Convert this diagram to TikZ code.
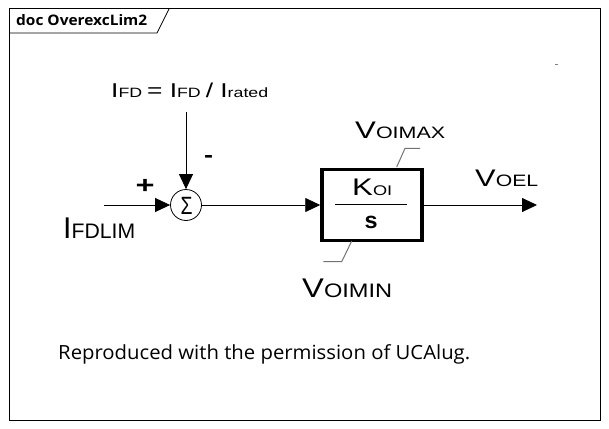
\documentclass[tikz,border=0pt]{standalone}
\usepackage{fontspec}
\usepackage{graphicx}
\setmainfont{Liberation Sans}
\newfontfamily\capfont{Open Sans}
\usetikzlibrary{arrows.meta}
\newcommand\fsz[1]{\fontsize{#1pt}{#1pt}\selectfont}
\newcommand\wfit[2]{\resizebox{#1pt}{\height}{#2}}
\begin{document}
\begin{tikzpicture}[x=1pt,y=-1pt,
  wire/.style={line width=0.8pt, draw=black},
  arr/.style={wire, -{Triangle[length=15pt,width=14pt]}},
  lim/.style={line width=1pt, draw=black!55},
  lbl/.style={inner sep=0pt, anchor=base west},
]
\useasboundingbox (0,0) rectangle (609,428);
% frame
\draw[line width=1pt] (9,9) rectangle (600,420);
\draw[line width=0.8pt] (9,33) -- (157,33) -- (169,9);
\node[lbl] (title) at (16,26) {\wfit{131}{\capfont\fsz{14.5}\bfseries doc OverexcLim2}};
% summing junction
\node[draw, circle, line width=0.8pt, minimum size=31pt, inner sep=0pt] (sum) at (186,205) {};
\node[inner sep=0pt] (sig) at (186.5,206) {\resizebox{12pt}{\height}{\fsz{25}Σ}};
% block
\node[draw, line width=3.5pt, minimum width=100pt, minimum height=71pt, inner sep=0pt] (blk) at (372,205) {};
\coordinate (fl) at (335,204);
\coordinate (fr) at (407,204);
\draw[wire] (fl) -- (fr);
\node[lbl] (k) at (352,195) {\wfit{40}{\fsz{24}K\fsz{14}OI}};
\node[lbl] (s) at (364.5,228) {\wfit{13}{\fsz{23}\bfseries s}};
% coordinates
\coordinate (in1) at (104,205);
\coordinate (top) at (186,112);
\coordinate (out) at (537,205);
% connectors
\draw[arr] (top) -- (sum.north);
\draw[arr] (in1) -- (sum.west);
\draw[arr] (sum.east) -- (blk.west);
\draw[arr] (blk.east) -- (out);
% limiters
\coordinate (lt1) at (396.7,167);
\coordinate (lt2) at (405,148.3);
\coordinate (lt3) at (420,148.3);
\draw[lim] (lt1) -- (lt2) -- (lt3);
\coordinate (lb1) at (351.7,241);
\coordinate (lb2) at (341.7,261.7);
\coordinate (lb3) at (323.3,261.7);
\draw[lim] (lb1) -- (lb2) -- (lb3);
% labels
\node[lbl] (ifd) at (111,97) {\wfit{157}{\fsz{20}I\fsz{13.5}FD \fsz{20}= I\fsz{13.5}FD \fsz{20}/ I\fsz{13.5}rated}};
\node[lbl] (ifdlim) at (63,238) {\wfit{72}{\fsz{30}I\fsz{21}FDLIM}};
\node[inner sep=0pt] (plus) at (145,186) {\resizebox{19pt}{\height}{\fsz{24}\bfseries +}};
\node[inner sep=0pt] (minus) at (208.5,159) {\resizebox{9pt}{\height}{\fsz{22}\bfseries -}};
\node[lbl] (vmax) at (355,138) {\wfit{90}{\fsz{24}V\fsz{16.5}OIMAX}};
\node[lbl] (vmin) at (302,297) {\wfit{90}{\fsz{27}V\fsz{19.5}OIMIN}};
\node[lbl] (voel) at (475,186) {\wfit{63}{\fsz{24}V\fsz{16.5}OEL}};
\coordinate (dash) at (555,64);
\draw[black!50, line width=0.6pt] (dash) -- ++(3,0);
\node[lbl] (cap) at (58,359) {\wfit{412}{\capfont\fsz{19.5}Reproduced with the permission of UCAlug.}};
\end{tikzpicture}
\end{document}
